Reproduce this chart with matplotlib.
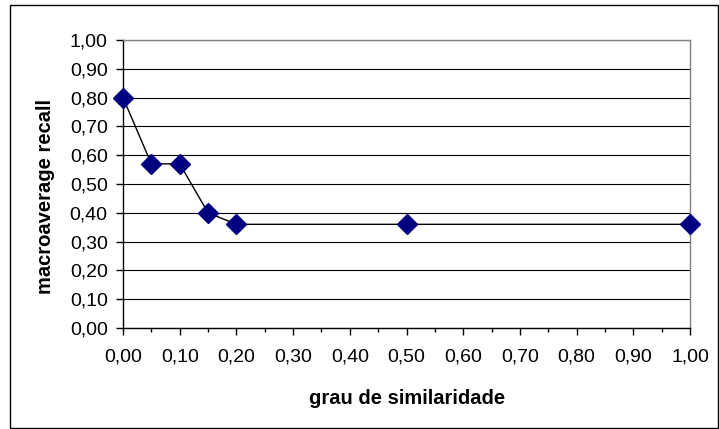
import matplotlib
matplotlib.use("Agg")
import matplotlib.pyplot as plt
from matplotlib.ticker import MultipleLocator, FuncFormatter
from matplotlib.patches import Rectangle

plt.rcParams['font.family'] = ['Liberation Sans', 'DejaVu Sans']

x_vals = [0.00, 0.05, 0.10, 0.15, 0.20, 0.50, 1.00]
recall = [0.80, 0.57, 0.57, 0.40, 0.36, 0.36, 0.36]
x_label = "grau de similaridade"
y_label = "macroaverage recall"

W, H = 719, 429
fig = plt.figure(figsize=(W / 100, H / 100), dpi=100)
ax = fig.add_axes([123 / W, 1 - 328 / H, (690 - 123) / W, (328 - 40) / H])

# outer frame
fig.patches.append(Rectangle((10 / W, 1 - 428 / H), (718 - 10) / W, (428 - 5) / H,
                             transform=fig.transFigure, fill=False, edgecolor='black',
                             linewidth=1.0))

ax.plot(x_vals, recall, color='black', linewidth=1.0, marker='D', markersize=10,
        markerfacecolor='#000080', markeredgecolor='#000080', zorder=3, clip_on=False)

ax.set_xlim(0, 1)
ax.set_ylim(0, 1)
ax.xaxis.set_major_locator(MultipleLocator(0.1))
ax.xaxis.set_minor_locator(MultipleLocator(0.05))
ax.yaxis.set_major_locator(MultipleLocator(0.1))
fmt = FuncFormatter(lambda v, p: f"{v:.2f}".replace('.', ','))
ax.xaxis.set_major_formatter(fmt)
ax.yaxis.set_major_formatter(fmt)

ax.grid(axis='y', color='black', linewidth=0.8)
ax.set_axisbelow(True)
for side in ['top', 'right']:
    ax.spines[side].set_color('#808080')
    ax.spines[side].set_linewidth(1.0)
for side in ['left', 'bottom']:
    ax.spines[side].set_color('black')
    ax.spines[side].set_linewidth(1.0)

ax.tick_params(axis='both', which='major', direction='out', length=5, width=1,
               labelsize=14, colors='black')
ax.tick_params(axis='x', which='minor', direction='out', length=3, width=1)
ax.tick_params(axis='x', which='major', pad=10)
ax.tick_params(axis='y', which='major', pad=6)

ax.set_xlabel(x_label, fontsize=14.5, fontweight='bold')
ax.set_ylabel(y_label, fontsize=14.5, fontweight='bold')
ax.xaxis.set_label_coords(407 / W, 1 - 398 / H, transform=fig.transFigure)
ax.yaxis.set_label_coords(46 / W, 1 - 196 / H, transform=fig.transFigure)
ax.xaxis.label.set_va('center')
ax.yaxis.label.set_va('center')

fig.savefig("out.png", dpi=100)
